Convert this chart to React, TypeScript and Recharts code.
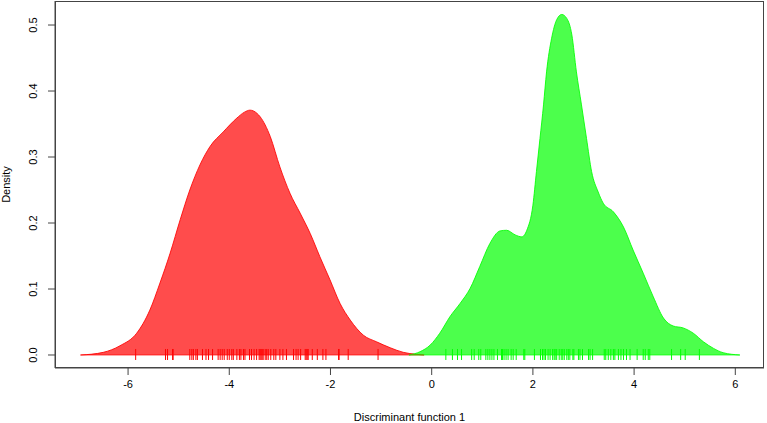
import React from 'react';
import { ComposedChart, Area, Line, Scatter, XAxis, YAxis } from 'recharts';

const redX = [-6.94, -6.49, -6.16, -5.83, -5.57, -5.37, -5.17, -4.97, -4.78, -4.58, -4.38, -4.12, -3.85, -3.7, -3.59, -3.45, -3.39, -3.19, -3.0, -2.8, -2.6, -2.4, -2.21, -2.01, -1.81, -1.61, -1.35, -1.09, -0.82, -0.56, -0.3, -0.15];
const redY = [0, 0.004, 0.014, 0.033, 0.068, 0.109, 0.154, 0.205, 0.25, 0.288, 0.316, 0.338, 0.359, 0.368, 0.371, 0.366, 0.361, 0.331, 0.285, 0.245, 0.215, 0.184, 0.149, 0.114, 0.078, 0.053, 0.03, 0.02, 0.011, 0.004, 0.001, 0];

const greenX = [-0.45, -0.23, -0.03, 0.16, 0.36, 0.56, 0.76, 0.95, 1.15, 1.35, 1.48, 1.65, 1.78, 1.88, 2.0, 2.07, 2.14, 2.21, 2.27, 2.37, 2.47, 2.57, 2.67, 2.77, 2.86, 2.96, 3.06, 3.16, 3.29, 3.39, 3.59, 3.79, 3.98, 4.18, 4.38, 4.58, 4.77, 4.97, 5.17, 5.37, 5.57, 5.76, 6.09];
const greenY = [0, 0.005, 0.015, 0.033, 0.058, 0.078, 0.101, 0.134, 0.169, 0.188, 0.189, 0.182, 0.179, 0.189, 0.227, 0.278, 0.328, 0.379, 0.429, 0.48, 0.508, 0.516, 0.51, 0.485, 0.429, 0.379, 0.328, 0.278, 0.247, 0.23, 0.217, 0.194, 0.159, 0.124, 0.088, 0.056, 0.044, 0.041, 0.033, 0.02, 0.01, 0.0035, 0];

const redRug = [-5.85, -5.26, -5.22, -5.12, -5.11, -4.78, -4.74, -4.71, -4.66, -4.63, -4.53, -4.46, -4.41, -4.33, -4.22, -4.18, -4.14, -4.1, -4.04, -4.0, -3.95, -3.92, -3.85, -3.8, -3.77, -3.72, -3.69, -3.6, -3.56, -3.51, -3.46, -3.41, -3.39, -3.37, -3.35, -3.33, -3.29, -3.26, -3.23, -3.18, -3.12, -3.08, -3.0, -2.94, -2.87, -2.73, -2.68, -2.64, -2.59, -2.5, -2.48, -2.46, -2.44, -2.36, -2.26, -2.15, -2.09, -1.84, -1.83, -1.65, -1.06];
const greenRug = [0.28, 0.41, 0.51, 0.59, 0.79, 0.84, 0.93, 0.97, 1.07, 1.11, 1.15, 1.19, 1.23, 1.3, 1.38, 1.4, 1.43, 1.47, 1.51, 1.57, 1.61, 1.67, 1.82, 1.84, 2.03, 2.15, 2.19, 2.22, 2.25, 2.3, 2.34, 2.39, 2.42, 2.44, 2.47, 2.52, 2.56, 2.59, 2.62, 2.67, 2.7, 2.73, 2.79, 2.81, 2.9, 2.93, 2.98, 3.1, 3.13, 3.18, 3.41, 3.44, 3.49, 3.54, 3.59, 3.62, 3.69, 3.74, 3.79, 3.85, 3.92, 4.06, 4.18, 4.22, 4.28, 4.31, 4.74, 4.92, 5.01, 5.29];

const xTicks = [-6, -4, -2, 0, 2, 4, 6];
const yTicks = [0, 0.1, 0.2, 0.3, 0.4, 0.5];
const xTitle = 'Discriminant function 1';
const yTitle = 'Density';

const X_DOMAIN: [number, number] = [-7.444, 6.567];
const Y_DOMAIN: [number, number] = [-0.0197, 0.5364];

const FONT = '"Liberation Sans", Arial, Helvetica, sans-serif';

const CHART_W = 767;
const CHART_H = 423;
const MARGIN = { top: 1, right: 3, bottom: 0, left: 0 };
const Y_AXIS_W = 55;
const X_AXIS_H = 55;

const redData = redX.map((x, i) => ({ x, y: redY[i] }));
const greenData = greenX.map((x, i) => ({ x, y: greenY[i] }));
const redBase = [{ x: redX[0], y: 0 }, { x: redX[redX.length - 1], y: 0 }];
const greenBase = [{ x: greenX[0], y: 0 }, { x: greenX[greenX.length - 1], y: 0 }];
const redRugData = redRug.map((x) => ({ x, y: 0 }));
const greenRugData = greenRug.map((x) => ({ x, y: 0 }));

const rugShape = (color: string) => (p: any) => (
  <line x1={p.cx} x2={p.cx} y1={p.cy - 6} y2={p.cy + 5} stroke={color} strokeWidth={1} />
);

const YTick = (props: any) => {
  const { x, y, payload } = props;
  const bx = x - 9;
  return (
    <text x={bx} y={y} transform={`rotate(-90, ${bx}, ${y})`} textAnchor="middle" fontSize={11} fill="#000" fontFamily={FONT}>
      {payload.value.toFixed(1)}
    </text>
  );
};

export default function App() {
  const plotLeft = MARGIN.left + Y_AXIS_W;
  const plotTop = MARGIN.top;
  const plotW = CHART_W - MARGIN.left - MARGIN.right - Y_AXIS_W;
  const plotH = CHART_H - MARGIN.top - MARGIN.bottom - X_AXIS_H;
  return (
    <div style={{ position: 'absolute', left: 0, top: 0, width: CHART_W, height: CHART_H }}>
      <ComposedChart width={CHART_W} height={CHART_H} margin={MARGIN} style={{ fontFamily: FONT }}>
        <XAxis
          type="number"
          dataKey="x"
          domain={X_DOMAIN}
          allowDataOverflow
          ticks={xTicks}
          height={X_AXIS_H}
          tickSize={7}
          tickMargin={5}
          stroke="#444"
          tick={{ fontSize: 11, fill: '#000', fontFamily: FONT }}
          label={{ value: xTitle, position: 'insideBottom', offset: 2.5, fontSize: 11, fill: '#000', fontFamily: FONT }}
        />
        <YAxis
          type="number"
          dataKey="y"
          domain={Y_DOMAIN}
          allowDataOverflow
          ticks={yTicks}
          width={Y_AXIS_W}
          tickSize={7}
          stroke="#444"
          tick={<YTick />}
          label={(props: any) => {
            const vb = props.viewBox || { x: 0, y: 1, height: 367 };
            const cx = 10;
            const cy = vb.y + vb.height / 2;
            return (
              <text x={cx} y={cy} transform={`rotate(-90, ${cx}, ${cy})`} textAnchor="middle" fontSize={11} fill="#000" fontFamily={FONT}>
                {yTitle}
              </text>
            );
          }}
        />
        <Area data={redData} dataKey="y" type="monotone" baseValue={0} fill="#ff0000" fillOpacity={0.7} stroke="#ff0000" strokeOpacity={0.85} strokeWidth={1} isAnimationActive={false} />
        <Area data={greenData} dataKey="y" type="monotone" baseValue={0} fill="#00ff00" fillOpacity={0.7} stroke="#00ff00" strokeOpacity={0.85} strokeWidth={1} isAnimationActive={false} />
        <Line data={redBase} dataKey="y" stroke="#ff0000" strokeOpacity={0.7} dot={false} activeDot={false} isAnimationActive={false} />
        <Line data={greenBase} dataKey="y" stroke="#00ff00" strokeOpacity={0.7} dot={false} activeDot={false} isAnimationActive={false} />
        <Scatter data={redRugData} dataKey="y" shape={rugShape('#ff0000')} isAnimationActive={false} />
        <Scatter data={greenRugData} dataKey="y" shape={rugShape('#00ff00')} isAnimationActive={false} />
      </ComposedChart>
      <div
        style={{
          position: 'absolute',
          left: plotLeft,
          top: plotTop,
          width: plotW,
          height: plotH,
          border: '1px solid #444',
          boxSizing: 'border-box',
          pointerEvents: 'none',
        }}
      />
    </div>
  );
}
